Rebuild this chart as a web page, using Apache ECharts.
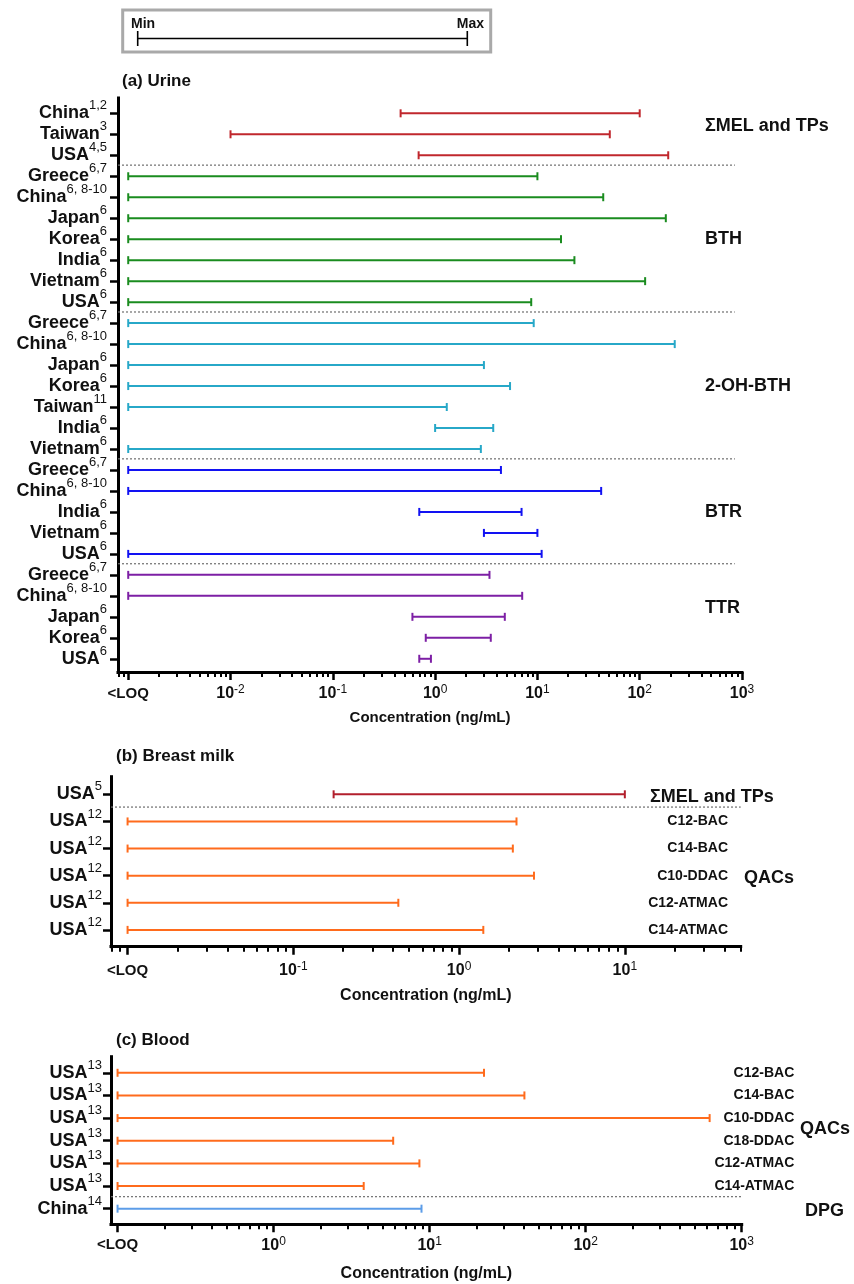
<!DOCTYPE html>
<html>
<head>
<meta charset="utf-8">
<script src="https://cdn.jsdelivr.net/npm/echarts@6/dist/echarts.min.js"></script>
<style>
  html, body { margin: 0; padding: 0; background: #fff; }
  #chart { width: 854px; height: 1284px; }
</style>
</head>
<body>
<div id="chart"></div>
<script>
// Values below the limit of quantification are plotted at each panel's <LOQ position.
const LOQ = '<LOQ';

// ---- (a) Urine ----
const urineCountries = ['China', 'Taiwan', 'USA',
  'Greece', 'China', 'Japan', 'Korea', 'India', 'Vietnam', 'USA',
  'Greece', 'China', 'Japan', 'Korea', 'Taiwan', 'India', 'Vietnam',
  'Greece', 'China', 'India', 'Vietnam', 'USA',
  'Greece', 'China', 'Japan', 'Korea', 'USA'];
const urineRefs = ['1,2', '3', '4,5',
  '6,7', '6, 8-10', '6', '6', '6', '6', '6',
  '6,7', '6, 8-10', '6', '6', '11', '6', '6',
  '6,7', '6, 8-10', '6', '6', '6',
  '6,7', '6, 8-10', '6', '6', '6'];
const urineGroups = ['ΣMEL and TPs', 'BTH', '2-OH-BTH', 'BTR', 'TTR'];
const urineGroupSizes = [3, 7, 7, 5, 5];
const urineMin = [0.46, 0.01, 0.69,
  LOQ, LOQ, LOQ, LOQ, LOQ, LOQ, LOQ,
  LOQ, LOQ, LOQ, LOQ, LOQ, 1.0, LOQ,
  LOQ, LOQ, 0.70, 3.0, LOQ,
  LOQ, LOQ, 0.60, 0.81, 0.70];
const urineMax = [100, 51, 190,
  10, 44, 180, 17, 23, 113, 8.7,
  9.2, 220, 3.0, 5.4, 1.3, 3.7, 2.8,
  4.4, 42, 7.0, 10, 11,
  3.4, 7.1, 4.8, 3.5, 0.91];

// ---- (b) Breast milk ----
const milkCountries = ['USA', 'USA', 'USA', 'USA', 'USA', 'USA'];
const milkRefs = ['5', '12', '12', '12', '12', '12'];
const milkCompounds = ['', 'C12-BAC', 'C14-BAC', 'C10-DDAC', 'C12-ATMAC', 'C14-ATMAC'];
const milkGroups = ['ΣMEL and TPs', 'QACs'];
const milkGroupSizes = [1, 5];
const milkMin = [0.175, LOQ, LOQ, LOQ, LOQ, LOQ];
const milkMax = [10, 2.22, 2.11, 2.83, 0.43, 1.40];

// ---- (c) Blood ----
const bloodCountries = ['USA', 'USA', 'USA', 'USA', 'USA', 'USA', 'China'];
const bloodRefs = ['13', '13', '13', '13', '13', '13', '14'];
const bloodCompounds = ['C12-BAC', 'C14-BAC', 'C10-DDAC', 'C18-DDAC', 'C12-ATMAC', 'C14-ATMAC', ''];
const bloodGroups = ['QACs', 'DPG'];
const bloodGroupSizes = [6, 1];
const bloodMin = [LOQ, LOQ, LOQ, LOQ, LOQ, LOQ, LOQ];
const bloodMax = [22.3, 40.5, 623, 5.84, 8.6, 3.78, 8.87];

// ---- layout and styling ----
const FONT = '"Liberation Sans", Arial, Helvetica, sans-serif';
const INK = '#111';
const SUP_RAISE = 7.5; // px the reference superscripts sit above the country names

const panels = [
  {
    title: '(a) Urine', titleLeft: 122, titleTop: 72,
    grid: { left: 118, top: 98, width: 624, height: 574 },
    xMin: -3.1, xMax: 3, loq: 0.001, yMin: -0.73, yMax: 26.63,
    countries: urineCountries, refs: urineRefs, groups: urineGroups, sizes: urineGroupSizes,
    min: urineMin, max: urineMax, compounds: null,
    colors: ['#c0272d', '#1a8c1f', '#27a8c8', '#1212f2', '#7d1fa5'],
    yLabelMargin: 11, xLabelMargin: 12, nameGap: 38, nameSize: 15,
    sepEnd: 2.93, groupDx: [-37, -37, -37, -37, -37], groupShift: [-0.4, 0, 0, 0, -0.4],
    compoundDx: 0
  },
  {
    title: '(b) Breast milk', titleLeft: 116, titleTop: 747,
    grid: { left: 111, top: 776.7, width: 629.7, height: 170 },
    xMin: -2.1, xMax: Math.log10(50), loq: 0.01, yMin: -0.65, yMax: 5.62,
    countries: milkCountries, refs: milkRefs, groups: milkGroups, sizes: milkGroupSizes,
    min: milkMin, max: milkMax, compounds: milkCompounds,
    colors: ['#b21f2c', '#ff6b1c'],
    yLabelMargin: 9, xLabelMargin: 14, nameGap: 41, nameSize: 16,
    sepEnd: Math.log10(50), groupDx: [-90.7, 3.3], groupShift: [0.1, 0.1], compoundDx: -12.7
  },
  {
    title: '(c) Blood', titleLeft: 116, titleTop: 1031,
    grid: { left: 111, top: 1056.7, width: 630.7, height: 167.6 },
    xMin: -1.042, xMax: 3, loq: 0.1, yMin: -0.71, yMax: 6.69,
    countries: bloodCountries, refs: bloodRefs, groups: bloodGroups, sizes: bloodGroupSizes,
    min: bloodMin, max: bloodMax, compounds: bloodCompounds,
    colors: ['#ff6b1c', '#5c9de8'],
    yLabelMargin: 9, xLabelMargin: 11, nameGap: 41, nameSize: 16,
    sepEnd: 3, groupDx: [58.3, 63.3], groupShift: [0, 0.1], compoundDx: 52.6
  }
];

const option = {
  animation: false,
  backgroundColor: '#fff',
  textStyle: { fontFamily: FONT },
  title: [], grid: [], xAxis: [], yAxis: [], series: [], graphic: []
};

// Horizontal min–max range with end caps
function rangeRenderer(color) {
  return function (params, api) {
    const row = api.value(2);
    const a = api.coord([api.value(0), row]);
    const b = api.coord([api.value(1), row]);
    const h = 4;
    const st = { stroke: color, lineWidth: 2 };
    return {
      type: 'group',
      children: [
        { type: 'line', shape: { x1: a[0], y1: a[1], x2: b[0], y2: b[1] }, style: st },
        { type: 'line', shape: { x1: a[0], y1: a[1] - h, x2: a[0], y2: a[1] + h }, style: st },
        { type: 'line', shape: { x1: b[0], y1: b[1] - h, x2: b[0], y2: b[1] + h }, style: st }
      ]
    };
  };
}

panels.forEach(function (p, i) {
  const loqLog = Math.log10(p.loq);
  const xi = 2 * i;
  const yi = 2 * i;

  option.title.push({
    text: p.title, left: p.titleLeft, top: p.titleTop, padding: 0,
    textStyle: { fontFamily: FONT, fontSize: 17, fontWeight: 'bold', color: INK, lineHeight: 18 }
  });
  option.grid.push(Object.assign({}, p.grid));

  // decade ticks (the lowest one is the <LOQ position) and 2..9 minor ticks
  const majors = [];
  for (let n = Math.ceil(p.xMin - 1e-9); n <= p.xMax + 1e-9; n++) majors.push(n);
  const minors = [];
  for (let n = Math.floor(p.xMin); n < p.xMax; n++) {
    for (let k = 2; k <= 9; k++) {
      const v = n + Math.log10(k);
      if (v >= p.xMin - 1e-9 && v <= p.xMax + 1e-9) minors.push(v);
    }
  }

  option.xAxis.push({
    type: 'value', gridIndex: i, position: 'bottom', min: p.xMin, max: p.xMax,
    splitLine: { show: false },
    axisLine: { onZero: false, lineStyle: { color: '#000', width: 3, cap: 'square' } },
    axisTick: { customValues: majors, length: 8, lineStyle: { color: '#000', width: 2.5 } },
    axisLabel: {
      customValues: majors, margin: p.xLabelMargin, showMinLabel: true, showMaxLabel: true,
      formatter: function (v) {
        if (Math.abs(v - loqLog) < 1e-9) return '{l|<LOQ}';
        return '{b|10}{e|' + Math.round(v) + '}';
      },
      rich: {
        l: { fontFamily: FONT, fontSize: 15, fontWeight: 'bold', color: INK, lineHeight: 20, verticalAlign: 'middle' },
        b: { fontFamily: FONT, fontSize: 16, fontWeight: 'bold', color: INK, lineHeight: 20, verticalAlign: 'middle' },
        e: { fontFamily: FONT, fontSize: 12, color: INK, lineHeight: 12, verticalAlign: 'top' }
      }
    },
    name: 'Concentration (ng/mL)', nameLocation: 'middle', nameGap: p.nameGap,
    nameTextStyle: { fontFamily: FONT, fontSize: p.nameSize, fontWeight: 'bold', color: INK }
  });
  option.xAxis.push({
    type: 'value', gridIndex: i, position: 'bottom', min: p.xMin, max: p.xMax,
    splitLine: { show: false },
    axisLine: { show: false, onZero: false },
    axisTick: { customValues: minors, length: 5, lineStyle: { color: '#000', width: 2 } },
    axisLabel: { show: false, customValues: minors }
  });

  // country names; the reference part is reserved as blank space here and
  // drawn raised by a companion axis whose range is shifted by SUP_RAISE px
  const rows = p.countries.map(function (_, k) { return k; });
  option.yAxis.push({
    type: 'value', gridIndex: i, position: 'left', inverse: true, min: p.yMin, max: p.yMax,
    splitLine: { show: false },
    axisLine: { onZero: false, lineStyle: { color: '#000', width: 3, cap: 'square' } },
    axisTick: { customValues: rows, length: 8, lineStyle: { color: '#000', width: 2.5 } },
    axisLabel: {
      customValues: rows, margin: p.yLabelMargin, showMinLabel: true, showMaxLabel: true,
      formatter: function (v) {
        const k = Math.round(v);
        return '{n|' + p.countries[k] + '}{s|' + p.refs[k] + '}';
      },
      rich: {
        n: { fontFamily: FONT, fontSize: 18, fontWeight: 'bold', color: INK, lineHeight: 18 },
        s: { fontFamily: FONT, fontSize: 13, color: 'rgba(0,0,0,0)', lineHeight: 18 }
      }
    }
  });
  const shift = SUP_RAISE * (p.yMax - p.yMin) / p.grid.height;
  option.yAxis.push({
    type: 'value', gridIndex: i, position: 'left', inverse: true,
    min: p.yMin + shift, max: p.yMax + shift,
    splitLine: { show: false },
    axisLine: { show: false, onZero: false },
    axisTick: { show: false },
    axisLabel: {
      customValues: rows, margin: p.yLabelMargin, showMinLabel: true, showMaxLabel: true,
      fontFamily: FONT, fontSize: 13, color: INK, lineHeight: 14,
      formatter: function (v) { return p.refs[Math.round(v)]; }
    }
  });

  // one range series per analyte group
  let start = 0;
  const sepRows = [];
  const notes = [];
  p.groups.forEach(function (g, gi) {
    const data = [];
    for (let r = start; r < start + p.sizes[gi]; r++) {
      const lo = p.min[r] === LOQ ? p.loq : p.min[r];
      data.push([Math.log10(lo), Math.log10(p.max[r]), r]);
    }
    option.series.push({
      type: 'custom', name: g, xAxisIndex: xi, yAxisIndex: yi, clip: false, silent: true,
      encode: { x: [0, 1], y: 2 },
      renderItem: rangeRenderer(p.colors[gi]),
      data: data
    });
    const end = start + p.sizes[gi] - 1;
    notes.push({ row: (start + end) / 2 + p.groupShift[gi], text: g, dx: p.groupDx[gi], align: 'left', size: 18 });
    if (gi < p.groups.length - 1) sepRows.push(end + 0.47);
    start = end + 1;
  });
  if (p.compounds) {
    p.compounds.forEach(function (c, r) {
      if (c) notes.push({ row: r, text: c, dx: p.compoundDx, align: 'right', size: 14 });
    });
  }

  // dotted separators between analyte groups
  option.series.push({
    type: 'custom', name: 'separators', xAxisIndex: xi, yAxisIndex: yi, clip: false, silent: true,
    encode: { x: 0, y: 1 },
    data: sepRows.map(function (r) { return [p.xMin, r]; }),
    renderItem: function (params, api) {
      const a = api.coord([p.xMin, api.value(1)]);
      const b = api.coord([p.sepEnd, api.value(1)]);
      return {
        type: 'line',
        shape: { x1: a[0], y1: a[1], x2: b[0], y2: b[1] },
        style: { stroke: '#6e6e6e', lineWidth: 1.2, lineDash: [2, 2] }
      };
    }
  });

  // analyte / compound names at the right of each panel
  option.series.push({
    type: 'custom', name: 'names', xAxisIndex: xi, yAxisIndex: yi, clip: false, silent: true,
    encode: { x: 0, y: 1 },
    data: notes.map(function (t) { return [p.xMin, t.row]; }),
    renderItem: function (params, api) {
      const t = notes[params.dataIndex];
      const rect = params.coordSys;
      const y = api.coord([p.xMin, api.value(1)])[1];
      return {
        type: 'text',
        x: rect.x + rect.width + t.dx, y: y,
        style: {
          text: t.text, fill: INK,
          font: 'bold ' + t.size + 'px ' + FONT,
          align: t.align, verticalAlign: 'middle',
          textAlign: t.align, textVerticalAlign: 'middle'
        }
      };
    }
  });
});

// Min / Max key at the top
option.graphic = [
  { type: 'rect', shape: { x: 122.7, y: 10, width: 368, height: 42 },
    style: { fill: '#fff', stroke: '#a9a9a9', lineWidth: 3 } },
  { type: 'text', x: 131, y: 24,
    style: { text: 'Min', font: 'bold 14px ' + FONT, fill: INK, align: 'left', verticalAlign: 'middle' } },
  { type: 'text', x: 484, y: 24,
    style: { text: 'Max', font: 'bold 14px ' + FONT, fill: INK, align: 'right', verticalAlign: 'middle' } },
  { type: 'line', shape: { x1: 137.7, y1: 38.5, x2: 467.3, y2: 38.5 }, style: { stroke: '#000', lineWidth: 1.6 } },
  { type: 'line', shape: { x1: 137.7, y1: 31, x2: 137.7, y2: 46 }, style: { stroke: '#000', lineWidth: 1.6 } },
  { type: 'line', shape: { x1: 467.3, y1: 31, x2: 467.3, y2: 46 }, style: { stroke: '#000', lineWidth: 1.6 } }
];

const chart = echarts.init(document.getElementById('chart'), null, { renderer: 'canvas' });
chart.setOption(option);
</script>
</body>
</html>
